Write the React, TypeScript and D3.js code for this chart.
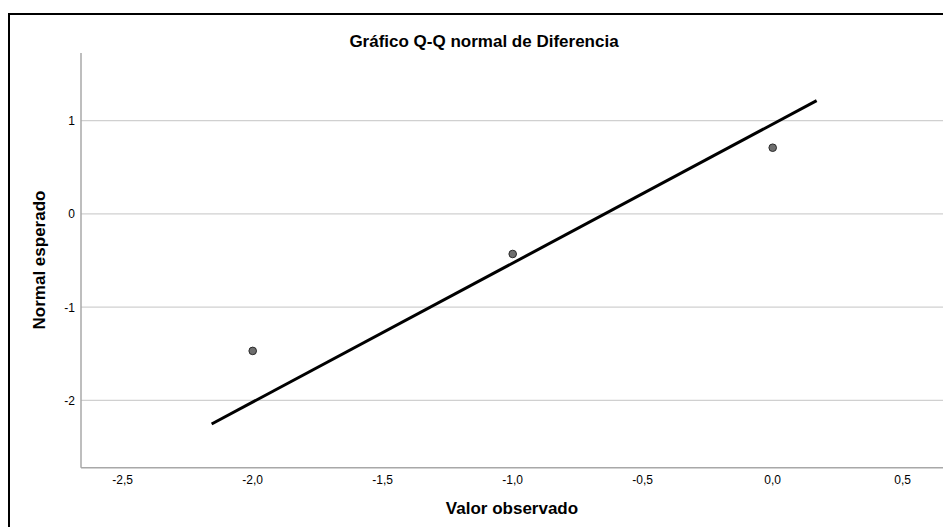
import React from "react";
import * as d3 from "d3";

const observed = [-2.0, -1.0, 0.0];
const expected = [-1.47, -0.43, 0.71];
const lineX = [-2.158, 0.169];
const lineY = [-2.254, 1.215];
const xTicks = [-2.5, -2.0, -1.5, -1.0, -0.5, 0.0, 0.5];
const yTicks = [-2, -1, 0, 1];

const W = 943, H = 527;
const left = 81, top = 53, bottom = 467.7;

export default function App() {
  const x = d3.scaleLinear().domain([0, 0.5]).range([772.7, 902.7]);
  const y = d3.scaleLinear().domain([-2, 1]).range([400.3, 120.7]);
  const fmt = (v: number) => v.toFixed(1).replace(".", ",");
  const line = d3.line<number>().x((_, i) => x(lineX[i])).y((_, i) => y(lineY[i]));
  const font = "Liberation Sans, Arial, sans-serif";
  return (
    <svg width={W} height={H} style={{ position: "absolute", left: 0, top: 0 }} fontFamily={font}>
      <rect x={0} y={0} width={W} height={H} fill="#fff" />
      <rect x={9} y={14} width={W + 20} height={H + 20} fill="none" stroke="#000" strokeWidth={2} />
      <text x={484} y={47} textAnchor="middle" fontSize={17} fontWeight="bold" fill="#000">Gráfico Q-Q normal de Diferencia</text>
      {yTicks.map(t => (
        <g key={t}>
          <line x1={left} x2={W} y1={y(t)} y2={y(t)} stroke="#d0d0d0" strokeWidth={1.3} />
          <text x={75} y={y(t) + 4.5} textAnchor="end" fontSize={12} fill="#000">{t}</text>
        </g>
      ))}
      <line x1={left} x2={left} y1={top} y2={bottom} stroke="#a8a8a8" strokeWidth={1.5} />
      <line x1={left} x2={W} y1={bottom} y2={bottom} stroke="#a8a8a8" strokeWidth={1.5} />
      {xTicks.map(t => (
        <text key={t} x={x(t)} y={484} textAnchor="middle" fontSize={12} fill="#000">{fmt(t)}</text>
      ))}
      <path d={line(lineX) || ""} stroke="#000" strokeWidth={3} fill="none" />
      {observed.map((v, i) => (
        <circle key={i} cx={x(v)} cy={y(expected[i])} r={3.8} fill="#6e6e6e" stroke="#2a2a2a" strokeWidth={1} />
      ))}
      <text x={512} y={514} textAnchor="middle" fontSize={17} fontWeight="bold" fill="#000">Valor observado</text>
      <text transform={`translate(45,260) rotate(-90)`} textAnchor="middle" fontSize={17} fontWeight="bold" fill="#000">Normal esperado</text>
    </svg>
  );
}
